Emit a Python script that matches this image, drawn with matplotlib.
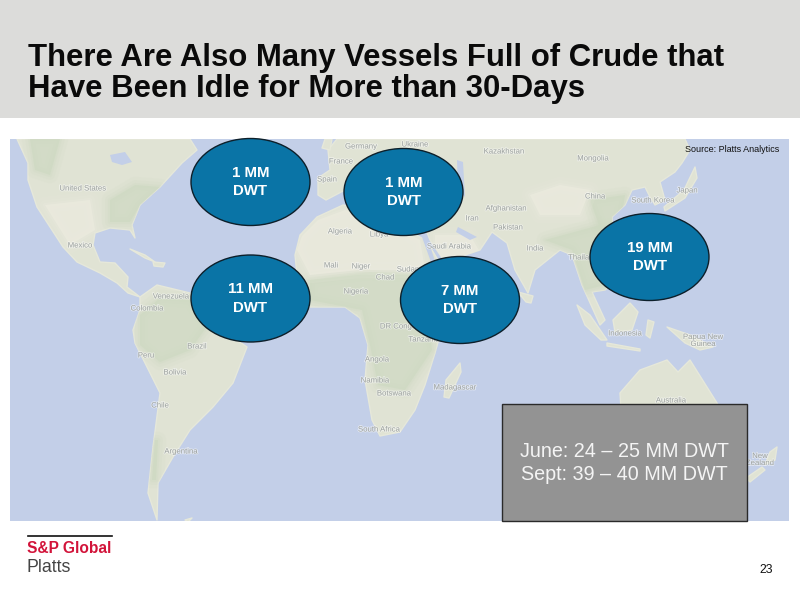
"""
Slide: idle crude vessels by region, drawn on a rough world map.
All layout is in slide pixels (800x600, y pointing down).
"""

import matplotlib
matplotlib.use("Agg")
import matplotlib.pyplot as plt
import matplotlib.patheffects as pe
from matplotlib.patches import Ellipse, Polygon, Rectangle

plt.rcParams['font.family'] = ['Liberation Sans', 'DejaVu Sans']

# chart values
title_lines = ["There Are Also Many Vessels Full of Crude that",
               "Have Been Idle for More than 30-Days"]
region_mm_dwt = [1, 1, 11, 7, 19]
summary_lines = ["June: 24 – 25 MM DWT", "Sept: 39 – 40 MM DWT"]
source_note = "Source: Platts Analytics"
page_number = "23"

# where the region bubbles sit
bubble_x = [250.5, 403.5, 250.5, 460, 649.5]
bubble_y = [182, 192, 298.5, 300, 257]

# map labels
place_names = ["United States", "Mexico", "Venezuela", "Colombia", "Brazil", "Peru", "Bolivia",
               "Chile", "Argentina", "Germany", "France", "Spain", "Algeria", "Libya", "Mali",
               "Niger", "Chad", "Nigeria", "Sudan", "DR Congo", "Tanzania", "Angola", "Namibia",
               "Botswana", "South Africa", "Madagascar", "Ukraine", "Kazakhstan", "Mongolia",
               "China", "Japan", "South Korea", "Afghanistan", "Iran", "Pakistan", "Saudi Arabia",
               "India", "Thailand", "Indonesia", "Papua New\nGuinea", "Australia", "New\nZealand"]
place_x = [83, 80, 171, 147, 197, 146, 175, 160, 181, 361, 341, 327, 340, 379, 331,
           361, 385, 356, 408, 398, 424, 377, 375, 394, 379, 455, 415, 504, 593,
           595, 687, 653, 506, 472, 508, 449, 535, 583, 625, 703, 671, 760]
place_y = [189, 246, 297, 309, 347, 356, 373, 406, 452, 147, 162, 180, 232, 235, 266,
           267, 278, 292, 270, 327, 340, 360, 381, 394, 430, 388, 145, 152, 159,
           197, 191, 201, 209, 219, 228, 247, 249, 258, 334, 341, 401, 460]

# coastlines
north_america = [(17, 139), (28, 163), (28, 180), (37, 207), (50, 227), (63, 247), (77, 262), (100, 273),
                 (117, 283), (128, 293), (140, 297), (127, 287), (128, 277), (115, 263), (100, 262),
                 (93, 245), (95, 233), (110, 228), (130, 230), (135, 238), (132, 225), (140, 205),
                 (160, 187), (182, 163), (197, 150), (190, 139)]
south_america = [(140, 297), (157, 285), (190, 293), (215, 325), (247, 347), (233, 383), (213, 407),
                 (190, 430), (173, 457), (158, 483), (157, 520), (148, 493), (153, 447), (160, 393),
                 (135, 343), (133, 330), (140, 310)]
africa = [(295, 255), (300, 235), (317, 217), (343, 205), (375, 212), (400, 225), (425, 240), (432, 250),
          (450, 280), (462, 290), (440, 335), (435, 353), (425, 385), (415, 410), (400, 432), (380, 436),
          (372, 420), (365, 380), (368, 345), (360, 318), (345, 307), (310, 307), (298, 285)]
eurasia = [(337, 139), (328, 150), (330, 170), (318, 178), (318, 195), (326, 200), (345, 190), (365, 190),
           (400, 200), (420, 215), (430, 240), (445, 262), (480, 250), (492, 232), (507, 243), (515, 270),
           (528, 293), (535, 270), (560, 250), (572, 255), (582, 285), (600, 325), (605, 320),
           (592, 292), (605, 290), (625, 270), (613, 235), (612, 217), (625, 205), (632, 190),
           (645, 187), (650, 197), (655, 205), (665, 200), (660, 182), (675, 172), (682, 163), (690, 150),
           (685, 139)]
islands = [
    [(620, 393), (640, 370), (667, 360), (678, 372), (690, 360), (717, 403), (730, 430), (700, 450), (640, 440), (622, 425)],  # Australia
    [(460, 363), (461, 372), (449, 398), (444, 397), (446, 380)],  # Madagascar
    [(577, 305), (590, 315), (607, 340), (601, 340), (585, 325)],  # Sumatra
    [(613, 320), (630, 303), (638, 312), (632, 330), (615, 332)],  # Borneo
    [(607, 343), (640, 349), (640, 351), (607, 346)],  # Java
    [(648, 320), (654, 322), (650, 338), (646, 335)],  # Sulawesi
    [(667, 327), (690, 335), (713, 347), (700, 350), (685, 343)],  # New Guinea
    [(695, 167), (697, 178), (685, 198), (665, 211), (664, 207), (684, 190)],  # Japan
    [(777, 447), (775, 460), (765, 465), (770, 452)],  # NZ north
    [(762, 467), (765, 470), (750, 482), (746, 478)],  # NZ south
    [(130, 249), (145, 255), (155, 262), (145, 258)],  # Cuba
    [(153, 262), (165, 263), (163, 267), (154, 266)],  # Hispaniola
    [(518, 292), (533, 296), (531, 303), (526, 302)],  # Sri Lanka
    [(325, 139), (332, 139), (330, 150), (322, 148)],  # Britain
    [(185, 520), (192, 518), (188, 522)],
]
water_bits = [
    [(457, 160), (463, 162), (465, 197), (458, 190)],  # Caspian
    [(458, 227), (477, 237), (470, 240), (456, 232)],  # Gulf
    [(422, 237), (428, 240), (436, 264), (431, 262)],  # Red Sea
    [(110, 155), (125, 152), (132, 162), (122, 165), (112, 162)],  # Great Lakes
]
# tints, each paired with the landmass it has to stay inside
green_bits = [
    (south_america, [(140, 315), (160, 298), (190, 300), (208, 325), (190, 350), (160, 362), (140, 345)]),  # Amazon
    (africa, [(310, 280), (370, 272), (420, 275), (425, 300), (432, 350), (405, 390), (378, 385), (370, 345), (362, 310), (310, 300)]),  # Central Africa
    (north_america, [(110, 200), (135, 185), (160, 187), (140, 205), (130, 222), (110, 222)]),  # Eastern US
    (eurasia, [(545, 240), (600, 225), (622, 250), (605, 285), (585, 290), (572, 250)]),  # SE Asia
    (eurasia, [(590, 200), (625, 195), (620, 225), (600, 228)]),  # East China
    (north_america, [(30, 139), (60, 139), (50, 175), (35, 170)]),  # Canadian Rockies
    (south_america, [(155, 440), (158, 440), (156, 480), (152, 480)]),  # Andes
]
pale_bits = [
    (africa, [(297, 250), (302, 236), (318, 220), (345, 210), (375, 216), (420, 240), (425, 270), (360, 270), (310, 275)]),  # Sahara
    (eurasia, [(530, 195), (560, 185), (590, 190), (580, 215), (540, 215)]),  # Tibet
    (eurasia, [(435, 265), (480, 252), (470, 235), (435, 235)]),  # Arabia
    (north_america, [(45, 205), (90, 200), (95, 230), (70, 245)]),  # US southwest
]


def soft_patch(ax, coast, shape, color):
    """Tint with feathered edges, clipped to its landmass."""
    clip = Polygon(coast, closed=True, transform=ax.transData)
    for lw, alpha in [(12, 0.12), (7, 0.18), (3, 0.25)]:
        p = Polygon(shape, closed=True, fc='none', ec=color, lw=lw, alpha=alpha,
                    joinstyle='round', zorder=3)
        ax.add_patch(p)
        p.set_clip_path(clip)
    p = Polygon(shape, closed=True, fc=color, ec='none', alpha=0.7, zorder=3)
    ax.add_patch(p)
    p.set_clip_path(clip)


fig = plt.figure(figsize=(8, 6), dpi=100, facecolor='white')
ax = fig.add_axes([0, 0, 1, 1])
ax.set_xlim(0, 800)
ax.set_ylim(600, 0)
ax.axis('off')

# header band and title
ax.add_patch(Rectangle((0, 0), 800, 118, fc='#dcdcda', ec='none'))
for i, line in enumerate(title_lines):
    ax.text(28, 66 + i * 31.5, line, fontsize=22.4, fontweight='bold', color='#0a0a0a',
            ha='left', va='baseline')

# map
map_box = Rectangle((10, 139), 779, 382, fc='#c3cfe8', ec='none')
ax.add_patch(map_box)
land = [north_america, south_america, africa, eurasia] + islands
for shape in land:
    p = Polygon(shape, closed=True, fc='#e0e3d4', ec='#e6e8da', lw=1, joinstyle='round', zorder=2)
    ax.add_patch(p)
    p.set_clip_path(map_box)
for coast, shape in green_bits:
    soft_patch(ax, coast, shape, '#ced9c2')
for coast, shape in pale_bits:
    soft_patch(ax, coast, shape, '#ecebdf')
for shape in water_bits:
    ax.add_patch(Polygon(shape, closed=True, fc='#c3cfe8', ec='none', zorder=3))
halo = [pe.withStroke(linewidth=1.2, foreground='white', alpha=0.5)]
for name, x, y in zip(place_names, place_x, place_y):
    ax.text(x, y, name, fontsize=5.6, color='#a0a5a2', ha='center', va='center',
            linespacing=1.0, zorder=4, path_effects=halo)

# region bubbles
for value, x, y in zip(region_mm_dwt, bubble_x, bubble_y):
    ax.add_patch(Ellipse((x, y), 119, 87, fc='#0a74a6', ec='#0d1f2a', lw=1, zorder=5))
    ax.text(x, y, f"{value} MM\nDWT", fontsize=10.8, fontweight='bold', color='white',
            ha='center', va='center', linespacing=1.4, zorder=6)

# summary box
ax.add_patch(Rectangle((502, 404), 245, 117, fc='#939393', ec='#2a2a2a', lw=1, zorder=5))
ax.text(624, 463, "\n".join(summary_lines), fontsize=14.2, color='#f4f4f4', ha='center', va='center',
        linespacing=1.32, zorder=6)

ax.text(685, 149, source_note, fontsize=6.5, color='#111111', ha='left', va='center', zorder=6)

# footer logo and page number
ax.plot([28, 112], [536, 536], color='#111111', lw=1.2)
ax.text(27, 553, "S&P Global", fontsize=11.2, fontweight='bold', color='#d2143a', ha='left', va='baseline')
ax.text(27, 572, "Platts", fontsize=12.8, color='#444444', ha='left', va='baseline')
ax.text(773, 570, page_number, fontsize=8.8, color='#111111', ha='right', va='center')

plt.savefig("out.png", dpi=100, facecolor=fig.get_facecolor())
plt.close()
